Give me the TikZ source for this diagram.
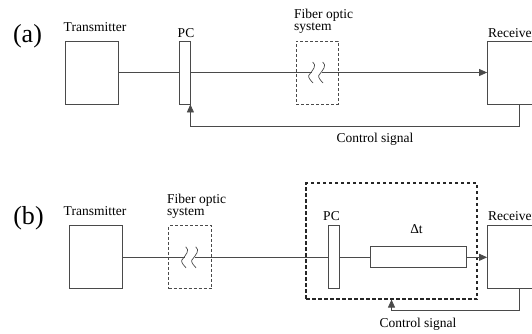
\documentclass[tikz,border=0pt]{standalone}
\usepackage{fontspec}
\setmainfont{Liberation Serif}
\newfontfamily\tnr{Liberation Serif}
\usetikzlibrary{arrows.meta,positioning,calc}
\definecolor{wire}{HTML}{4A4A4A}
\tikzset{
  box/.style={draw=wire,line width=0.8pt,minimum width=53pt,minimum height=63pt,inner sep=0pt},
  pcbox/.style={box,minimum width=11pt},
  fibbox/.style={box,minimum width=42pt,dash pattern=on 3pt off 2pt,line width=0.7pt},
  ctlbox/.style={draw=black!85,line width=1.1pt,dash pattern=on 3.5pt off 2.5pt,minimum width=171pt,minimum height=116pt,inner sep=0pt},
  ln/.style={draw=wire,line width=0.8pt},
  arr/.style={-{Triangle[length=8pt,width=7pt]},ln},
  lbl/.style={inner sep=0pt,font=\tnr\fontsize{13.5}{12.5}\selectfont},
  tag/.style={inner sep=0pt,font=\tnr\fontsize{26}{26}\selectfont}
}
\newcommand{\fibrebreak}[1]{%
  \begin{scope}[shift={(#1)}]
    \fill[white] (-5,-1.5) rectangle (5,1.5);
    \foreach \o in {-4.3,5.7}{
      \begin{scope}[xshift=\o pt]
        \draw[wire,line width=0.7pt] (0,-10.5) .. controls (4.5,-7) and (0.5,-3) .. (-4,3)
          .. controls (-4.6,5) and (-2,8) .. (0.3,10.5);
      \end{scope}
    }
  \end{scope}}

\begin{document}
\begin{tikzpicture}[x=1pt,y=-1pt]
 \clip (0,0) rectangle (532,333);
 % (a) tracking with PC in front of the link
 \node[tag,anchor=base] (taga) at (27.5,42.5) {(a)};
 \node[box] (txa) at (91.5,72.5) {};
 \node[pcbox] (pca) at (184.5,72.5) {};
 \node[fibbox] (fiba) at (317,72.5) {};
 \node[box,minimum width=60pt] (rxa) at (517.5,72.5) {};
 \node[lbl,anchor=base] at (95,31.5) {Transmitter};
 \node[lbl,anchor=base] at (186,37) {PC};
 \node[lbl,anchor=south west,align=left] at (294,34) {Fiber optic\\system};
 \node[lbl,anchor=base west] at (488,37) {Receiver};
 \draw[ln] (txa) -- (pca);
 \draw[arr] (pca.east) -- (rxa.west);
 \fibrebreak{fiba.center}
 \coordinate (ca) at (519,126.5);
 \draw[arr] (rxa.south -| ca) -- (ca) -| (pca.south east);
 \node[lbl,anchor=base] at (375,142) {Control signal};

 % (b) PC and delay at the receiver end
 \node[tag,anchor=base] (tagb) at (28.5,224.5) {(b)};
 \node[box] (txb) at (95.5,257.3) {};
 \node[fibbox,minimum width=43pt] (fibb) at (190,257.3) {};
 \node[ctlbox] (ctl) at (391.5,241) {};
 \node[pcbox] (pcb) at (333.5,257.3) {};
 \node[box,minimum width=96pt,minimum height=21pt] (dt) at (418,257.3) {};
 \node[box,minimum width=60pt] (rxb) at (517.5,257.3) {};
 \node[lbl,anchor=base] at (95,215) {Transmitter};
 \node[lbl,anchor=south west,align=left] at (167,219) {Fiber optic\\system};
 \node[lbl,anchor=base] at (331.5,220) {PC};
 \node[lbl,anchor=base] at (416.5,233) {Δt};
 \node[lbl,anchor=base west] at (488,220) {Receiver};
 \draw[ln] (txb) -- (pcb);
 \draw[ln] (pcb) -- (dt);
 \draw[arr] (dt.east) -- (rxb.west);
 \fibrebreak{fibb.center}
 \coordinate (cb) at (519,310);
 \draw[arr] (rxb.south -| cb) -- (cb) -| (ctl.south);
 \node[lbl,anchor=base] at (418,327) {Control signal};
\end{tikzpicture}
\end{document}
